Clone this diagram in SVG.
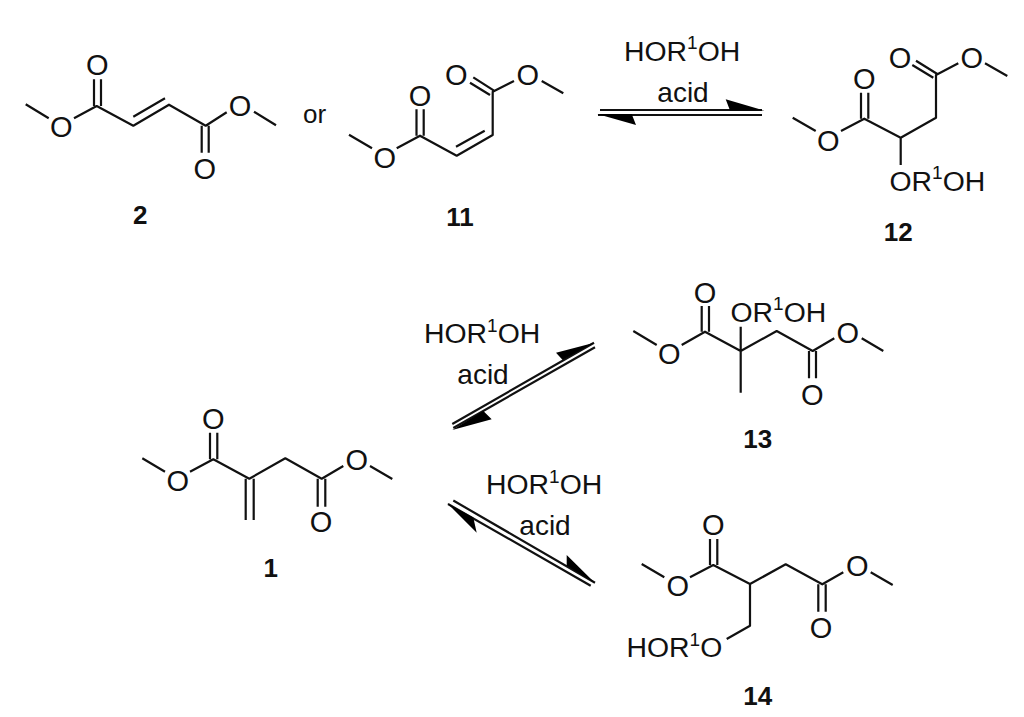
<svg xmlns="http://www.w3.org/2000/svg" width="1024" height="717" viewBox="0 0 1024 717">
<style>
text{font-family:"Liberation Sans",Arial,sans-serif;fill:#111}
.a{font-size:29px;text-anchor:middle}
.r{font-size:28px;text-anchor:middle}
.l{font-size:28.4px}
.s{font-size:19px}
.n{font-size:26px;font-weight:bold;text-anchor:middle}
.b{fill:none;stroke:#111;stroke-width:2.2;stroke-linecap:butt;stroke-linejoin:round}
.h{fill:#000;stroke:none}
</style>
<rect width="1024" height="717" fill="#fff"/>
<g id="mol-2">
<path class="b" d="M25.7 104.3L48.7 118.3M74 118.3L96.7 106L133.3 125.7L169 104.7L205.7 125.7L226.7 112.3M254 111.7L276 125.3M94 106V79.3M101 106V79.3M133.3 116.7L165 98.3M201.7 125.7V152.7M208.7 125.7V152.7"/>
<text class="a" x="97.3" y="75.3">O</text><text class="a" x="61.3" y="137.3">O</text><text class="a" x="240" y="116.3">O</text><text class="a" x="204.7" y="179">O</text>
<text class="n" x="140.3" y="224">2</text>
</g>
<text id="or" class="l" x="303" y="123" style="font-size:26px">or</text>
<g id="mol-11">
<path class="b" d="M349 134.7L372 148.3M396.7 148.3L420 135.7L456.7 155.7L492.7 135V91.7L514 81M541.7 81L563.3 93.3M416.5 135.7V109.3M423.7 135.7V109.3M456 146.7L484.7 130.7M494 90.7L473.3 77.3M490 95L470 82.7"/>
<text class="a" x="384.7" y="167.6">O</text><text class="a" x="420" y="105.6">O</text><text class="a" x="456.3" y="85.3">O</text><text class="a" x="527.7" y="84.6">O</text>
<text class="n" x="460" y="226">11</text>
</g>
<g id="mol-12">
<path class="b" d="M792.7 117.7L815.7 131M841 131L864.3 118.7L900.7 137.7L936 117.7V75L958.3 63.3M985 63.3L1007.3 76M861 118.7V92.7M868.3 118.7V92.7M937.3 74L916 60.7M933.3 77.7L912.3 65M900.7 137.7V165"/>
<text class="a" x="828.3" y="150.6">O</text><text class="a" x="864.3" y="88.6">O</text><text class="a" x="900" y="67.6">O</text><text class="a" x="971.7" y="67.6">O</text>
<text class="l" x="889.5" y="190.7">OR<tspan class="s" dy="-11.4">1</tspan><tspan dy="11.4">OH</tspan></text>
<text class="n" x="898.3" y="240.7">12</text>
</g>
<g id="mol-13">
<path class="b" d="M633.3 331L656.7 345M681.7 345L705 331.7L740.7 351L776.7 331L812.7 351L834.3 338.3M861.7 338.3L883.3 351M701.7 331.7V306M709 331.7V306M740.7 326.7V392.7M809 351V378.3M816 351V378.3"/>
<text class="a" x="669.3" y="364.3">O</text><text class="a" x="705" y="302.6">O</text><text class="a" x="847.7" y="342.6">O</text><text class="a" x="812.3" y="405.3">O</text>
<text class="l" x="730.5" y="321.7">OR<tspan class="s" dy="-11.4">1</tspan><tspan dy="11.4">OH</tspan></text>
<text class="n" x="757.7" y="447.7">13</text>
</g>
<g id="mol-1">
<path class="b" d="M142.3 458.3L165 471.7M190 471.7L213.3 459.3L249.3 478.7L285.3 458.3L321.7 478.7L343.3 466M370 466L392.3 479M210 459.3V432.7M217.3 459.3V432.7M245.7 478.7V520M253.7 478.7V520M317.7 478.7V506.7M325.3 478.7V506.7"/>
<text class="a" x="177.7" y="491.3">O</text><text class="a" x="213.3" y="428.6">O</text><text class="a" x="356.7" y="470.3">O</text><text class="a" x="321" y="532">O</text>
<text class="n" x="270.7" y="576.7">1</text>
</g>
<g id="mol-14">
<path class="b" d="M641.7 564L664.3 577.3M690 577.3L713.3 565L750 584L785.7 564.3L822.3 584.3L843.3 572.3M870.7 572.3L892.7 585M710 565V539M717.3 565V539M818.3 584.3V611.7M825.7 584.3V611.7M750 584V625.7L726.7 639"/>
<text class="a" x="677.7" y="596.3">O</text><text class="a" x="713.3" y="534.6">O</text><text class="a" x="857.3" y="576.3">O</text><text class="a" x="821" y="637.6">O</text>
<text class="l" x="626.5" y="657.3">HOR<tspan class="s" dy="-11.4">1</tspan><tspan dy="11.4">O</tspan></text>
<text class="n" x="757.7" y="705">14</text>
</g>
<g id="connectors">
<path class="b" d="M600 110H762M598 115H762"/>
<path class="h" d="M764.3 110.5L725.7 99.3L730 110.5ZM597.3 114L636 125L631.7 114Z"/>
<path class="b" d="M452.3 424L594 342.7M453.3 428L595 347.3"/>
<path class="h" d="M594.3 342.7L556 352.7L562.7 360ZM452.3 430L491.7 419.3L483.3 411Z"/>
<path class="b" d="M453.3 500.5L595 582.7M448 504L590.7 585.7"/>
<path class="h" d="M447.3 503.3L476.7 532.7L473.3 517.5ZM595 583L566.7 555L566.7 565.7Z"/>
</g>
<g id="reagents">
<text class="l" x="624" y="60.7">HOR<tspan class="s" dy="-11.4">1</tspan><tspan dy="11.4">OH</tspan></text>
<text class="r" x="683" y="101.7">acid</text>
<text class="l" x="424" y="343.3">HOR<tspan class="s" dy="-11.4">1</tspan><tspan dy="11.4">OH</tspan></text>
<text class="r" x="483" y="384">acid</text>
<text class="l" x="486" y="494">HOR<tspan class="s" dy="-11.4">1</tspan><tspan dy="11.4">OH</tspan></text>
<text class="r" x="545" y="535">acid</text>
</g>
</svg>
